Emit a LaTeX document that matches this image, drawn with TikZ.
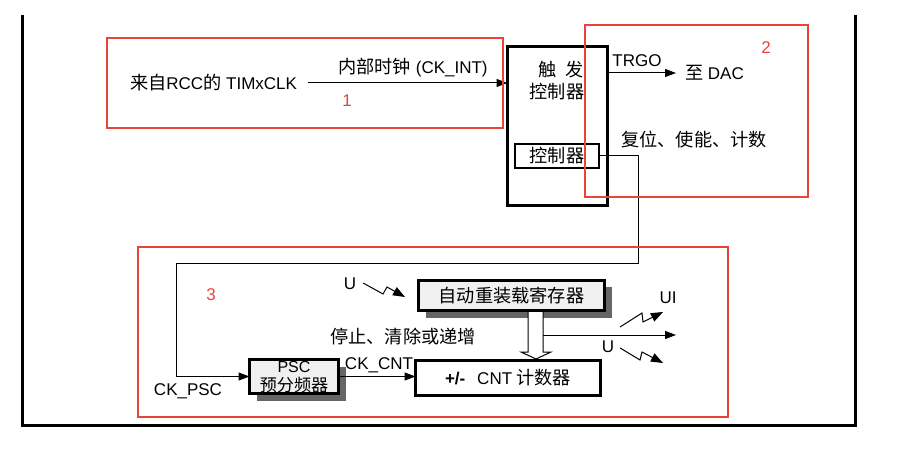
\documentclass[tikz,border=0pt]{standalone}
\usepackage{fontspec}
\setmainfont{Liberation Sans}
\newfontfamily\cjkf{Noto Sans CJK SC}[Scale=1.07]
\newcommand{\zhs}[1]{{\cjkf #1}}
\usetikzlibrary{arrows.meta,calc,shadows}
\definecolor{redbox}{HTML}{E8443A}
\definecolor{boxgray}{HTML}{F0F0F0}
\definecolor{shadowgray}{HTML}{666666}
\begin{document}
\begin{tikzpicture}[x=1pt,y=-1pt,
  every node/.style={font=\fontsize{17}{16}\selectfont, inner sep=0pt, outer sep=0pt},
  shadowbox/.style={draw, line width=3pt, fill=boxgray,
     drop shadow={shadow xshift=7pt, shadow yshift=-7pt, fill=shadowgray, opacity=1}},
  conn/.style={line width=1pt, -{Triangle[length=11pt,width=8pt]}},
  bolt/.style={line width=1pt, -{Triangle[length=12pt,width=9pt]}},
  redframe/.style={draw=redbox, line width=2.7pt},
  redlabel/.style={text=redbox},
  smalltext/.style={font=\fontsize{16}{16}\selectfont}
]
\useasboundingbox (0,0) rectangle (902,454);

% outer frame
\draw[line width=3pt] (22,15) -- (22,425) -- (855,425) -- (855,15);

% trigger controller
\node[draw, line width=3pt, minimum width=100pt, minimum height=159pt] (trig) at (557.5,126) {};
\node (trig1) at (561,70) {\zhs{触\hspace{0.45em}发}};
\node (trig2) at (557,92) {\zhs{控制器}};
\node[draw, line width=2.5pt, minimum width=84pt, minimum height=24pt] (ctrl) at (557,156) {\zhs{控制器}};

% source clock
\node[anchor=east] (src) at (297,83) {\zhs{来自}RCC\zhs{的} TIMxCLK};
\node (ckint) at (413,68) {\zhs{内部时钟} (CK\_INT)};
\draw[conn] ([xshift=11pt]src.east) -- (src.east -| trig.west);

% TRGO
\node[anchor=west] (dac) at (685,73) {\zhs{至} DAC};
\node (trgo) at (637,61) {TRGO};
\draw[conn] (dac.west -| trig.east) -- ([xshift=-9pt]dac.west);
\node (rst) at (694,140) {\zhs{复位、使能、计数}};

% bottom blocks
\node[shadowbox, minimum width=186pt, minimum height=30pt] (arr) at (511.5,295.5) {\zhs{自动重装载寄存器}};
\node[shadowbox, minimum width=89pt, minimum height=34pt] (psc) at (294,376.5) {};
\node[smalltext] (psc1) at (294,367) {PSC};
\node[smalltext] (psc2) at (294,385.5) {\zhs{预分频器}};
\node[draw, line width=3pt, fill=white, minimum width=185pt, minimum height=35pt] (cnt) at (508,378) {\textbf{+/-}\hspace{0.7em}CNT\hspace{0.25em}\zhs{计数器}};

\node (stop) at (403,337) {\zhs{停止、清除或递增}};
\node (ckpsc) at (188,391) {CK\_PSC};
\node (ckcnt) at (379,365) {CK\_CNT};

% controller -> PSC
\coordinate (c1) at (638,264);
\coordinate (c2) at (176,264);
\draw[conn] (ctrl.east) -| (c1) -- (c2) |- (psc.west);

% PSC -> CNT
\draw[conn] (psc.east) -- (psc.east -| cnt.west);

% hollow transfer arrow ARR -> CNT
\draw[line width=1pt, fill=white, line join=miter]
  (528,312) -- (528,352) -- (521,352) -- (536,359) -- (551,352) -- (543,352) -- (543,312);

% output line
\coordinate (outstart) at (543,335);
\coordinate (outend) at (676,335);
\draw[conn] (outstart) -- (outend);

% U bolts
\node (u1) at (350,284) {U};
\draw[bolt] ($(u1.east)+(7,-1)$) -- (383,294) -- (387,287) -- (405,297);
\node (ui) at (668,298) {UI};
\draw[bolt] (620,327) -- (642,313) -- (643,322) -- (663,312);
\node (u2) at (608,347) {U};
\draw[bolt] ($(u2.east)+(6,1)$) -- (640,360) -- (642,352) -- (663,363);

% red annotation frames
\draw[redframe] (107,38) rectangle (503,128);
\node[redlabel] (l1) at (347,101) {1};
\draw[redframe] (585,25) rectangle (808,197);
\node[redlabel] (l2) at (766,48) {2};
\draw[redframe] (138,247) rectangle (728,417);
\node[redlabel] (l3) at (211,295) {3};
\end{tikzpicture}
\end{document}
